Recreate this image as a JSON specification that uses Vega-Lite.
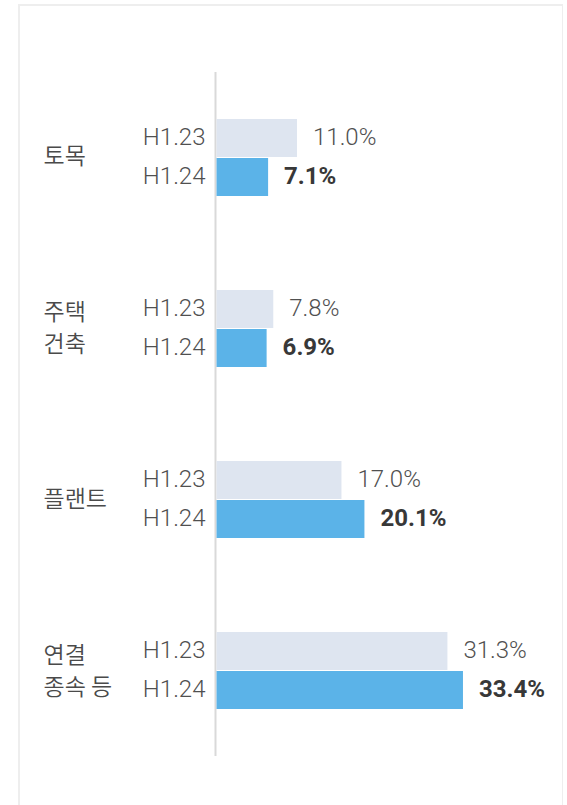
{
  "$schema": "https://vega.github.io/schema/vega-lite/v6.json",
  "autosize": {"type": "none"},
  "padding": {"left": 19, "top": 5, "right": 0, "bottom": 0},
  "width": 544,
  "height": 818,
  "background": "white",
  "config": {
    "view": {"stroke": "#eeeeee", "strokeWidth": 2},
    "font": "Roboto, Noto Sans CJK KR"
  },
  "data": {
    "values": [
      {"category": "토목", "period": "H1.23", "value": 11.0, "label": "11.0%"},
      {"category": "토목", "period": "H1.24", "value": 7.1, "label": "7.1%"},
      {"category": "주택 건축", "period": "H1.23", "value": 7.8, "label": "7.8%"},
      {"category": "주택 건축", "period": "H1.24", "value": 6.9, "label": "6.9%"},
      {"category": "플랜트", "period": "H1.23", "value": 17.0, "label": "17.0%"},
      {"category": "플랜트", "period": "H1.24", "value": 20.1, "label": "20.1%"},
      {"category": "연결 종속 등", "period": "H1.23", "value": 31.3, "label": "31.3%"},
      {"category": "연결 종속 등", "period": "H1.24", "value": 33.4, "label": "33.4%"}
    ]
  },
  "encoding": {
    "y": {
      "field": "category",
      "type": "nominal",
      "sort": null,
      "scale": {"paddingInner": 0, "paddingOuter": 0.3918},
      "axis": {
        "title": null,
        "domain": false,
        "ticks": false,
        "grid": false,
        "labelAlign": "left",
        "labelBaseline": "middle",
        "labelPadding": -24,
        "labelFont": "Noto Sans CJK KR",
        "labelFontSize": 23,
        "labelFontWeight": 350,
        "labelColor": "#4a4a4a",
        "labelLineHeight": 32,
        "labelOffset": {"condition": {"test": "datum.value == '주택 건축' || datum.value == '연결 종속 등'", "value": -15}, "value": 0},
        "labelExpr": "datum.label == '주택 건축' ? ['주택','건축'] : datum.label == '연결 종속 등' ? ['연결','종속 등'] : datum.label"
      }
    }
  },
  "layer": [
    {
      "transform": [{"filter": "datum.period == 'H1.24'"}],
      "mark": {"type": "bar", "color": "#d9d9d9"},
      "encoding": {
        "x": {"datum": -0.135, "type": "quantitative", "scale": {"domain": [-26.52, 46.9], "nice": false, "zero": false}, "axis": null},
        "x2": {"datum": 0.135}
      }
    },
    {
      "mark": {"type": "bar"},
      "encoding": {
        "x": {"field": "value", "type": "quantitative"},
        "x2": {"datum": 0.14},
        "yOffset": {"field": "period", "type": "nominal", "scale": {"domain": ["_a", "H1.23", "H1.24", "_b"], "paddingInner": 0.0256, "paddingOuter": 0.205}},
        "color": {"field": "period", "type": "nominal", "scale": {"domain": ["H1.23", "H1.24"], "range": ["#dee5f0", "#5bb3e8"]}, "legend": null}
      }
    },
    {
      "mark": {"type": "text", "align": "right", "baseline": "middle", "dx": -10, "fontSize": 24, "fontWeight": 300, "color": "#505050", "font": "Roboto"},
      "encoding": {
        "x": {"datum": 0, "type": "quantitative"},
        "yOffset": {"field": "period", "type": "nominal"},
        "text": {"field": "period"}
      }
    },
    {
      "transform": [{"filter": "datum.period == 'H1.23'"}],
      "mark": {"type": "text", "align": "left", "baseline": "middle", "dx": 16, "fontSize": 24, "fontWeight": 300, "color": "#505050", "font": "Roboto"},
      "encoding": {
        "x": {"field": "value", "type": "quantitative"},
        "yOffset": {"field": "period", "type": "nominal"},
        "text": {"field": "label"}
      }
    },
    {
      "transform": [{"filter": "datum.period == 'H1.24'"}],
      "mark": {"type": "text", "align": "left", "baseline": "middle", "dx": 16, "fontSize": 24, "fontWeight": "bold", "color": "#383838", "font": "Roboto"},
      "encoding": {
        "x": {"field": "value", "type": "quantitative"},
        "yOffset": {"field": "period", "type": "nominal"},
        "text": {"field": "label"}
      }
    }
  ]
}
